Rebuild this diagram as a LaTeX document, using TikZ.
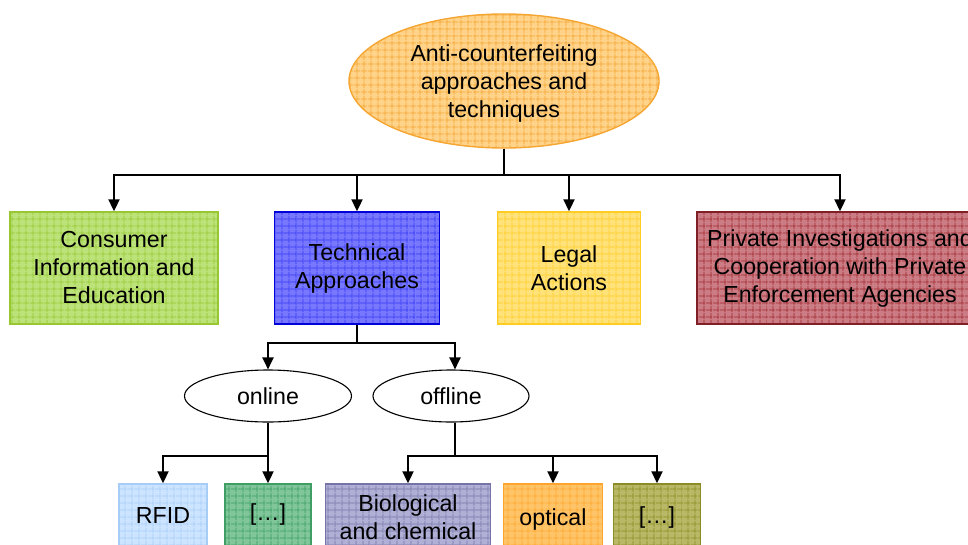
\documentclass[tikz,border=0pt]{standalone}
\usepackage{fontspec}
\setmainfont{Liberation Sans}
\usetikzlibrary{arrows.meta,patterns.meta,shapes.geometric}

% fill colours and grid-line colours of the boxes
\definecolor{orF}{HTML}{FFD38A}\definecolor{orL}{HTML}{F5A531}
\definecolor{grF}{HTML}{BCE27A}\definecolor{grL}{HTML}{97C832}
\definecolor{blF}{HTML}{7878FF}\definecolor{blL}{HTML}{3434F2}
\definecolor{yeF}{HTML}{FFE27A}\definecolor{yeL}{HTML}{FFCC22}
\definecolor{rdF}{HTML}{CC7C84}\definecolor{rdL}{HTML}{A02830}
\definecolor{lbF}{HTML}{CCE4FF}\definecolor{lbL}{HTML}{A6CDF8}
\definecolor{dgF}{HTML}{80C69A}\definecolor{dgL}{HTML}{3E9E64}
\definecolor{lvF}{HTML}{B0B0D6}\definecolor{lvL}{HTML}{7474A8}
\definecolor{opF}{HTML}{FFC468}\definecolor{opL}{HTML}{FFA52C}
\definecolor{olF}{HTML}{B8B866}\definecolor{olL}{HTML}{8C8C26}

\tikzset{
  x=1pt, y=-1pt,
  txt/.style={font=\fontsize{23.2}{28}\selectfont, align=center, text=black},
  gridded/.style 2 args={
    preaction={fill=#1},
    preaction={pattern={Lines[distance=6.5pt,line width=0.7pt]}, pattern color=#2},
    pattern={Lines[angle=90,distance=6.5pt,line width=0.7pt]}, pattern color=#2,
    draw=#2, line width=1.4pt},
  cbox/.style n args={4}{rectangle, txt, inner sep=0pt,
    minimum width=#1pt, minimum height=#2pt, gridded={#3}{#4}},
  oval/.style={ellipse, txt, draw=black, line width=1.1pt, fill=white,
    inner sep=0pt},
  conn/.style={draw=black, line width=2pt},
  arr/.style={conn, -{Triangle[width=11pt,length=12pt]}},
}

\begin{document}
\begin{tikzpicture}
\useasboundingbox (0,0) rectangle (968,544);
\clip (0,0) rectangle (968,544);

% root
\node[ellipse, inner sep=0pt, minimum width=310pt, minimum height=134pt,
      gridded={orF}{orL}] (root) at (504,81) {};
\node[txt] at (504,83) {Anti-counterfeiting\\approaches and\\techniques};

% first level
\node[cbox={208}{112}{grF}{grL}] (cons) at (114,268)
      {Consumer\\Information and\\Education};
\node[cbox={165}{112}{blF}{blL}, draw=blue!85!black] (tech) at (357,268)
      {Technical\\Approaches};
\node[cbox={143}{112}{yeF}{yeL}] (legal) at (569,268)
      {Legal\\Actions};
\node[cbox={286}{112}{rdF}{rdL}, draw=rdL!80!black] (priv) at (840,268)
      {Private Investigations and\\Cooperation with Private\\Enforcement Agencies};

% second level
\node[oval, minimum width=167pt, minimum height=52pt] (online) at (268,396) {online};
\node[oval, minimum width=156pt, minimum height=52pt] (offline) at (451,396) {offline};

% leaves
\node[cbox={88}{76}{lbF}{lbL}] (rfid) at (163,522) {};
\node[txt] at (163,516) {RFID};
\node[cbox={86}{76}{dgF}{dgL}] (etc1) at (268,522) {};
\node[txt] at (268,514) {[\dots]};
\node[cbox={165}{76}{lvF}{lvL}] (bio) at (408,522) {};
\node[txt] at (408,517) {Biological\\and chemical};
\node[cbox={99}{76}{opF}{opL}] (opt) at (553,522) {};
\node[txt] at (553,519) {optical};
\node[cbox={87}{76}{olF}{olL}] (etc2) at (657,522) {};
\node[txt] at (657,517) {[\dots]};

% connectors: root to first level
\coordinate (b1) at (504,175);
\draw[conn] (root.south) -- (b1);
\draw[arr] (b1) -| (cons.north);
\draw[arr] (b1) -| (tech.north);
\draw[arr] (b1) -| (legal.north);
\draw[arr] (b1) -| (priv.north);

% technical approaches to online / offline
\coordinate (b2) at (357,343);
\draw[conn] (tech.south) -- (b2);
\draw[arr] (b2) -| (online.north);
\draw[arr] (b2) -| ([xshift=4pt]offline.north);

% online to its leaves
\coordinate (b3) at (268,456);
\draw[conn] (online.south) -- (b3);
\draw[arr] (b3) -| (rfid.north);
\draw[arr] (b3) -| (etc1.north);

% offline to its leaves
\coordinate (b4) at (455,456);
\draw[conn] ([xshift=4pt]offline.south) -- (b4);
\draw[arr] (b4) -| (bio.north);
\draw[arr] (b4) -| (opt.north);
\draw[arr] (b4) -| (etc2.north);
\end{tikzpicture}
\end{document}
